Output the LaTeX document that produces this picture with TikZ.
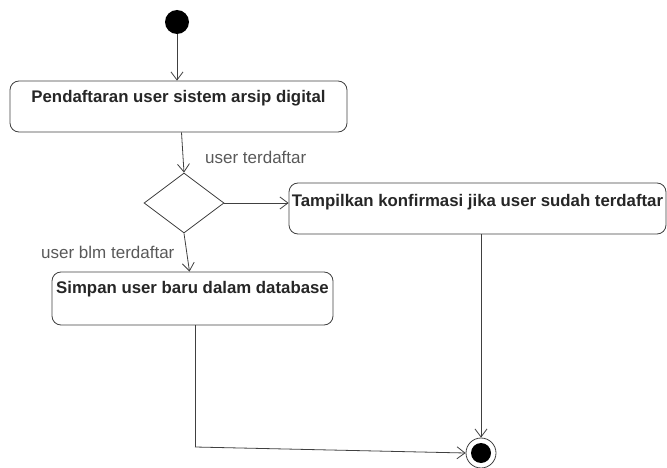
\documentclass[tikz,border=0pt]{standalone}
\usepackage{fontspec}
\setmainfont{Liberation Sans}
\usetikzlibrary{arrows.meta,shapes.geometric}
\begin{document}
\begin{tikzpicture}[x=1pt,y=-1pt,
  line/.style={draw=black!75, line width=0.8pt},
  flow/.style={line, -{Straight Barb[length=8pt,width=12pt,line width=0.8pt]}},
  actbox/.style={draw=black!75, line width=0.8pt, rounded corners=9pt, inner sep=0pt},
  acttext/.style={font=\bfseries\fontsize{16.8}{19}\selectfont, text=black!85, inner sep=0pt},
  guard/.style={font=\fontsize{17}{19}\selectfont, text=black!65, inner sep=0pt},
  initial/.style={circle, fill=black, minimum size=24pt, inner sep=0pt},
]
\useasboundingbox (0,0) rectangle (667,468);

% start node
\node[initial] (start) at (177,22) {};

% activity: registration
\node[actbox, minimum width=337pt, minimum height=51pt] (reg) at (178.5,106.5) {};
\node[acttext] (regt) at ([yshift=-18pt]reg.north) {Pendaftaran user sistem arsip digital};

% decision
\node[draw=black!75, line width=0.8pt, diamond, minimum width=80pt, minimum height=60pt, inner sep=0pt] (dec) at (184,203) {};

% activity: confirmation
\node[actbox, minimum width=377pt, minimum height=51pt] (conf) at (477.5,208.5) {};
\node[acttext] (conft) at ([yshift=-20pt]conf.north) {Tampilkan konfirmasi jika user sudah terdaftar};

% activity: store new user
\node[actbox, minimum width=281pt, minimum height=53pt] (store) at (192.5,298.5) {};
\node[acttext] (storet) at ([yshift=-18pt]store.north) {Simpan user baru dalam database};

% final node
\node[circle, draw=black!75, line width=0.8pt, minimum size=30pt, inner sep=0pt] (final) at (481,453) {};
\node[circle, fill=black, minimum size=20pt, inner sep=0pt] (finaldot) at (final.center) {};

% guard labels
\node[guard, anchor=west] (g1) at (205,157) {user terdaftar};
\node[guard, anchor=west] (g2) at (41,252) {user blm terdaftar};

% connectors
\draw[flow] (start) -- (reg.north -| start);
\draw[flow] ([xshift=3pt]reg.south) -- (dec.north);
\draw[flow] (dec.east) -- (conf.west |- dec.east);
\draw[flow] (dec.south) -- ([xshift=-3pt]store.north);
\draw[flow] (conf.south -| final) -- (final.north);
\coordinate (bend) at (195,447);
\draw[line] ([xshift=2.5pt]store.south) -- (bend);
\draw[flow] (bend) -- (final.west);
\end{tikzpicture}
\end{document}
